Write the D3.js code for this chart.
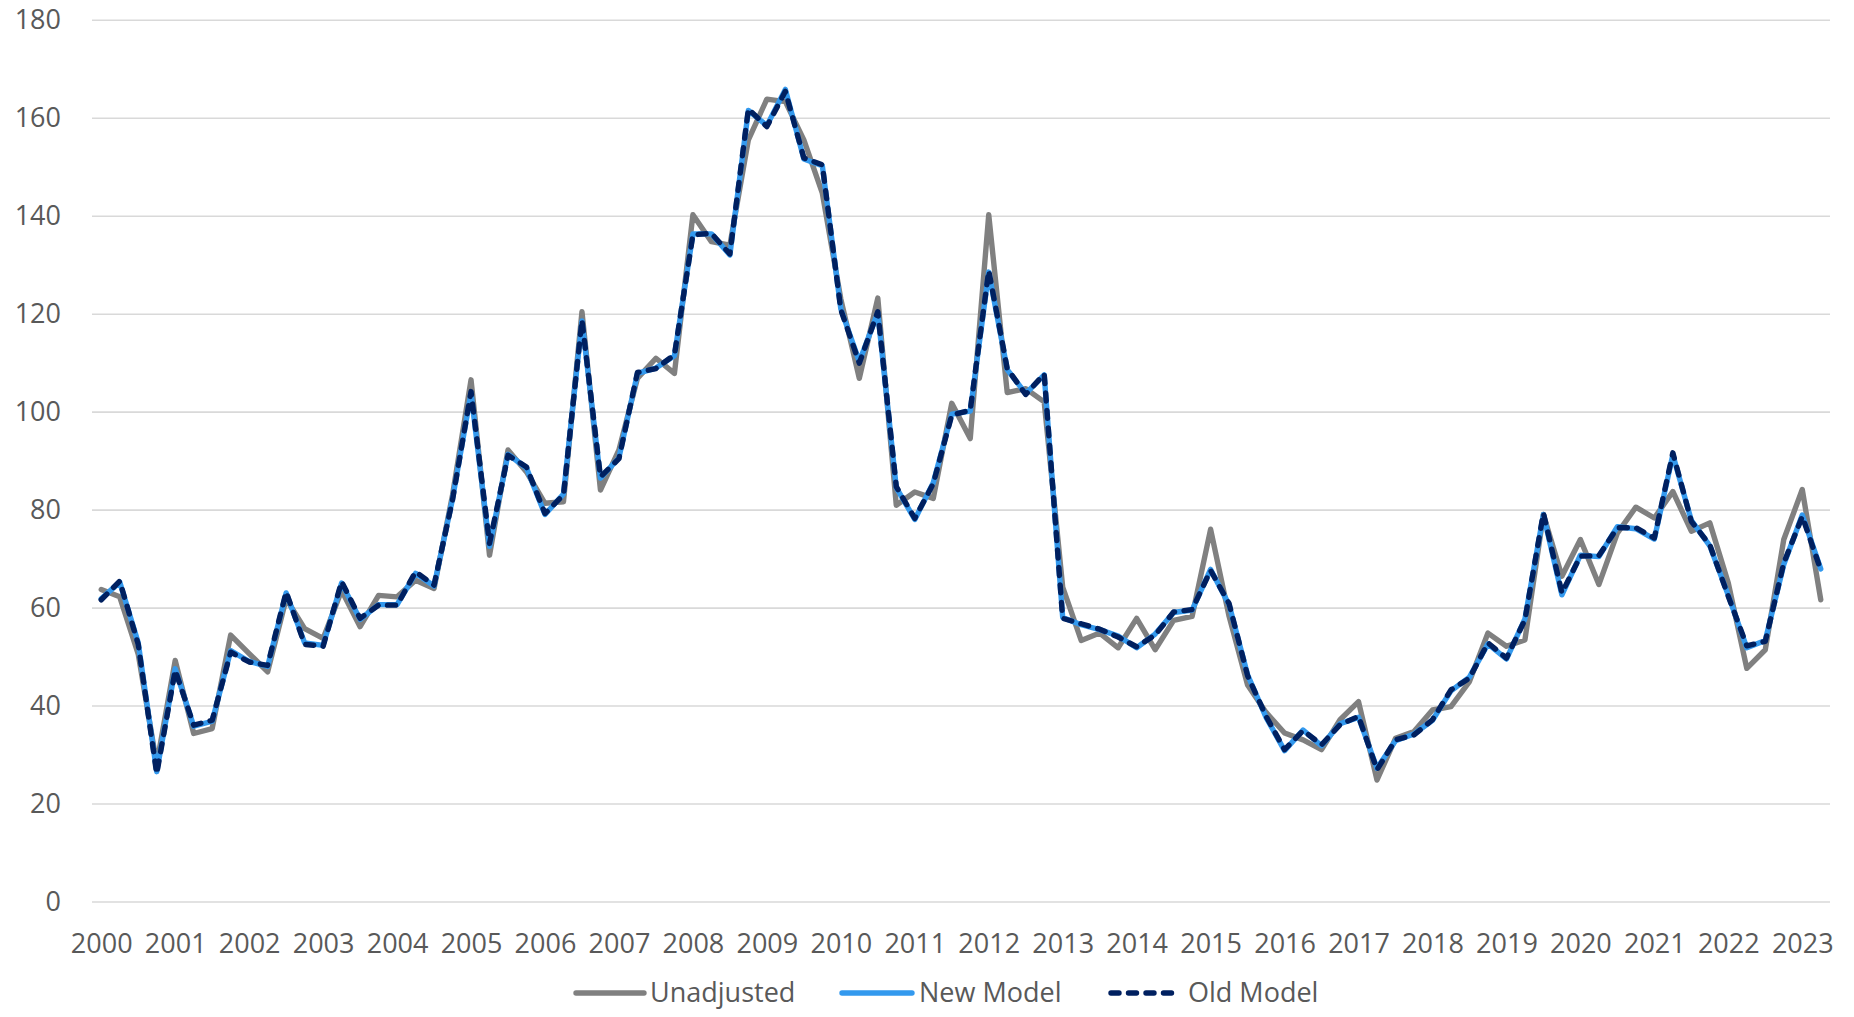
<!DOCTYPE html>
<html>
<head>
<meta charset="utf-8">
<script src="https://cdn.jsdelivr.net/npm/d3@7"></script>
<style>
  html, body { margin: 0; padding: 0; background: #fff; }
  svg { display: block; }
</style>
</head>
<body>
<div id="chart"></div>
<script>
// quarterly, 2000 Q1 .. 2023 Q2
const years = d3.range(2000, 2024).map(String);
const yTicks = [0, 20, 40, 60, 80, 100, 120, 140, 160, 180];

const unadjusted = [
  63.7, 62.2, 50.5, 28.0, 49.2, 34.3, 35.3, 54.4, 50.6, 46.9, 61.8, 55.7,
  53.7, 63.5, 56.1, 62.5, 62.2, 65.6, 63.9, 83.0, 106.5, 70.7, 92.2, 87.7,
  81.3, 81.6, 120.4, 84.0, 92.2, 106.8, 110.9, 107.8, 140.2, 134.7, 134.0, 155.5,
  163.8, 163.3, 155.5, 144.6, 123.0, 106.8, 123.2, 80.9, 83.6, 82.3, 101.7, 94.5,
  140.2, 103.9, 104.7, 102.0, 64.2, 53.3, 54.8, 51.8, 57.8, 51.4, 57.4, 58.2,
  76.0, 58.2, 44.2, 38.6, 34.4, 33.0, 31.0, 37.1, 40.8, 24.8, 33.3, 34.7,
  39.1, 39.8, 44.9, 54.8, 52.1, 53.4, 79.0, 66.4, 73.9, 64.7, 75.2, 80.5,
  78.3, 83.7, 75.6, 77.3, 65.0, 47.6, 51.4, 73.9, 84.1, 61.6
];

const newModel = [
  61.8, 65.2, 52.8, 26.5, 47.5, 35.8, 36.8, 51.2, 49.0, 48.0, 63.0, 52.8,
  52.3, 65.0, 57.6, 60.6, 60.6, 67.0, 64.4, 82.2, 103.8, 72.5, 91.3, 88.5,
  79.0, 83.2, 118.5, 86.4, 90.6, 107.8, 108.9, 111.4, 136.3, 136.3, 132.0, 161.5,
  158.4, 165.8, 151.6, 150.2, 121.0, 110.2, 120.2, 84.5, 78.0, 85.5, 99.5, 100.1,
  128.5, 108.6, 103.7, 107.5, 58.0, 56.5, 55.5, 54.2, 51.8, 54.6, 59.0, 59.5,
  67.8, 60.6, 46.3, 37.6, 30.8, 35.0, 31.8, 36.3, 37.6, 27.2, 32.8, 34.2,
  37.0, 43.0, 45.8, 52.6, 49.5, 57.7, 79.0, 62.6, 70.7, 70.4, 76.5, 76.1,
  74.0, 91.2, 77.8, 72.6, 62.5, 51.8, 53.3, 68.8, 78.9, 67.9
];

const oldModel = [
  61.6, 65.4, 52.5, 26.1, 47.2, 36.0, 37.0, 50.9, 48.9, 48.2, 63.2, 52.5,
  52.1, 65.3, 57.8, 60.5, 60.5, 67.3, 64.6, 82.0, 104.1, 73.1, 91.1, 88.7,
  79.2, 83.0, 118.7, 86.7, 90.4, 108.0, 108.8, 111.6, 136.1, 136.4, 132.2, 161.8,
  158.2, 165.4, 151.8, 150.4, 120.8, 109.9, 120.4, 84.7, 78.2, 85.3, 99.3, 100.3,
  128.8, 108.8, 103.5, 107.7, 57.8, 56.7, 55.6, 54.0, 52.0, 54.4, 59.1, 59.6,
  67.6, 60.8, 46.1, 37.8, 31.0, 34.9, 32.0, 36.1, 37.8, 26.9, 33.0, 34.0,
  37.1, 43.2, 45.6, 52.8, 49.7, 57.5, 79.3, 63.0, 70.5, 70.6, 76.3, 76.3,
  74.2, 91.6, 77.6, 72.8, 62.3, 52.2, 53.1, 69.1, 78.6, 67.7
];

const seriesNames = ['Unadjusted', 'New Model', 'Old Model'];

const width = 1854;
const height = 1017;
const plot = { left: 92, right: 1830, top: 19.8, bottom: 901.5 };
const font = '"Open Sans", "Noto Sans", sans-serif';
const textColor = '#595959';

const svg = d3.select('#chart')
  .append('svg')
  .attr('width', width)
  .attr('height', height)
  .style('background-color', '#ffffff');

const x = d3.scalePoint()
  .domain(d3.range(unadjusted.length))
  .range([plot.left, plot.right])
  .padding(0.5);

const y = d3.scaleLinear()
  .domain([0, 180])
  .range([plot.bottom, plot.top]);

// y axis + gridlines
const yAxis = svg.append('g')
  .attr('transform', `translate(${plot.left},0)`)
  .call(d3.axisLeft(y)
    .tickValues(yTicks)
    .tickSize(-(plot.right - plot.left))
    .tickPadding(31));
yAxis.select('.domain').remove();
yAxis.selectAll('.tick line')
  .attr('stroke', '#d9d9d9')
  .attr('stroke-width', 1.6);
yAxis.selectAll('.tick text')
  .attr('fill', textColor)
  .style('font-family', font)
  .style('font-size', '27px');

// x axis (a label every 4 quarters)
const xAxis = svg.append('g')
  .attr('transform', `translate(0,${plot.bottom})`)
  .call(d3.axisBottom(x)
    .tickValues(d3.range(0, unadjusted.length, 4))
    .tickFormat((d) => years[d / 4])
    .tickSize(0)
    .tickPadding(32));
xAxis.select('.domain').remove();
xAxis.selectAll('.tick text')
  .attr('fill', textColor)
  .style('font-family', font)
  .style('font-size', '27px');

const line = d3.line()
  .x((d, i) => x(i))
  .y((d) => y(d));

const lineWidth = 5.4;
const styles = [
  { data: unadjusted, color: '#808080', dash: null },
  { data: newModel, color: '#3399ee', dash: null },
  { data: oldModel, color: '#002060', dash: '8,9.5' }
];

styles.forEach((s) => {
  svg.append('path')
    .datum(s.data)
    .attr('d', line)
    .attr('fill', 'none')
    .attr('stroke', s.color)
    .attr('stroke-width', lineWidth)
    .attr('stroke-linejoin', 'round')
    .attr('stroke-linecap', 'round')
    .attr('stroke-dasharray', s.dash);
});

// legend
const legendPos = [
  { x1: 576, x2: 644, tx: 650 },
  { x1: 842, x2: 912, tx: 919 },
  { x1: 1111, x2: 1180, tx: 1188 }
];
const legendY = 993;
const legend = svg.append('g');
seriesNames.forEach((name, i) => {
  const p = legendPos[i];
  legend.append('line')
    .attr('x1', p.x1)
    .attr('x2', p.x2)
    .attr('y1', legendY)
    .attr('y2', legendY)
    .attr('stroke', styles[i].color)
    .attr('stroke-width', lineWidth)
    .attr('stroke-linecap', 'round')
    .attr('stroke-dasharray', styles[i].dash);
  legend.append('text')
    .attr('x', p.tx)
    .attr('y', legendY)
    .attr('dy', '0.35em')
    .attr('fill', textColor)
    .style('font-family', font)
    .style('font-size', '27px')
    .text(name);
});
</script>
</body>
</html>
